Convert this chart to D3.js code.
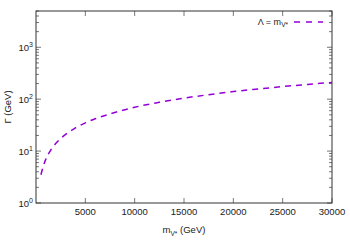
<!DOCTYPE html>
<html>
<head>
<meta charset="utf-8">
<script src="https://cdn.jsdelivr.net/npm/d3@7"></script>
<style>
  body { margin: 0; background: #fff; }
  svg { display: block; font-family: "Liberation Sans", Arial, sans-serif; }
</style>
</head>
<body>
<svg id="chart" width="350" height="245"></svg>
<script>
// values
const massGeV = [500, 750, 1000, 1500, 2000, 2500, 3000, 4000, 5000, 6000, 7500, 10000, 12500, 15000, 17500, 20000, 22500, 25000, 27500, 30000];
const widthGeV = [3.5, 5.2, 7, 10.5, 14, 17.5, 21, 28, 35, 42, 52, 70, 87, 105, 122, 140, 157, 175, 192, 210];
const xTicks = [5000, 10000, 15000, 20000, 25000, 30000];
const yDecades = [0, 1, 2, 3];
const legendLabel = "Λ = m";

const svg = d3.select("#chart");
const plotL = 36, plotR = 332, plotT = 11, plotB = 203;
const purple = "#9400d3";

const x = d3.scaleLinear().domain([0, 30000]).range([plotL, plotR]);
const y = d3.scaleLog().domain([1, 5000]).range([plotB, plotT]);

const g = svg.append("g");

// ticks (inward, mirrored)
xTicks.forEach(t => {
  g.append("line").attr("x1", x(t)).attr("x2", x(t)).attr("y1", plotB).attr("y2", plotB - 5)
    .attr("stroke", "#555").attr("stroke-width", 0.8);
  g.append("line").attr("x1", x(t)).attr("x2", x(t)).attr("y1", plotT).attr("y2", plotT + 5)
    .attr("stroke", "#555").attr("stroke-width", 0.8);
  g.append("text").attr("x", x(t)).attr("y", plotB + 12)
    .attr("text-anchor", "middle").attr("font-size", 9.5).attr("fill", "#222").text(t);
});

const minor = [];
for (let d = 0; d <= 3; d++) for (let k = 2; k <= 9; k++) {
  const v = k * Math.pow(10, d);
  if (v <= 5000) minor.push(v);
}
minor.forEach(v => {
  [[plotL, 3], [plotR, -3]].forEach(([xx, l]) => {
    g.append("line").attr("x1", xx).attr("x2", xx + l).attr("y1", y(v)).attr("y2", y(v))
      .attr("stroke", "#555").attr("stroke-width", 0.8);
  });
});
yDecades.forEach(d => {
  const v = Math.pow(10, d);
  [[plotL, 5], [plotR, -5]].forEach(([xx, l]) => {
    g.append("line").attr("x1", xx).attr("x2", xx + l).attr("y1", y(v)).attr("y2", y(v))
      .attr("stroke", "#555").attr("stroke-width", 0.8);
  });
  const t = g.append("text").attr("x", 33).attr("y", y(v) + 4)
    .attr("text-anchor", "end").attr("font-size", 9.5).attr("fill", "#222");
  t.append("tspan").text("10");
  t.append("tspan").attr("dy", -4).attr("font-size", 7).text(d);
});

// frame
g.append("rect").attr("x", plotL).attr("y", plotT).attr("width", plotR - plotL).attr("height", plotB - plotT)
  .attr("fill", "none").attr("stroke", "#333").attr("stroke-width", 1);

// curve
const line = d3.line().x((d, i) => x(massGeV[i])).y((d, i) => y(widthGeV[i])).curve(d3.curveMonotoneX);
g.append("path").datum(massGeV).attr("d", line)
  .attr("fill", "none").attr("stroke", purple).attr("stroke-width", 1.5)
  .attr("stroke-dasharray", "6,5");

// legend
const lt = g.append("text").attr("x", 288).attr("y", 25).attr("text-anchor", "end")
  .attr("font-size", 9).attr("fill", "#222");
lt.append("tspan").text(legendLabel);
lt.append("tspan").attr("dy", 2).attr("font-size", 6.5).text("V*");
g.append("line").attr("x1", 294).attr("x2", 323).attr("y1", 22).attr("y2", 22)
  .attr("stroke", purple).attr("stroke-width", 1.5).attr("stroke-dasharray", "6,6");

// axis labels
const xl = svg.append("text").attr("x", 184).attr("y", 233).attr("text-anchor", "middle")
  .attr("font-size", 9.5).attr("fill", "#222");
xl.append("tspan").text("m");
xl.append("tspan").attr("dy", 2.5).attr("font-size", 6.5).text("V*");
xl.append("tspan").attr("dy", -2.5).text(" (GeV)");

svg.append("text").attr("transform", "translate(11,107) rotate(-90)").attr("text-anchor", "middle")
  .attr("font-size", 9.5).attr("fill", "#222").text("Γ (GeV)");
</script>
</body>
</html>
